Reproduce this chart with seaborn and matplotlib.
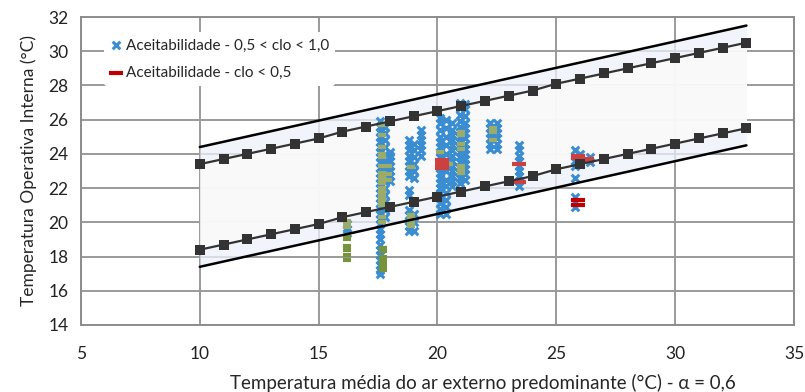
import pandas as pd
import seaborn as sns
import matplotlib.pyplot as plt

# --- data ---
band_x = [10, 11, 12, 13, 14, 15, 16, 17, 18, 19, 20, 21, 22, 23, 24, 25, 26, 27, 28, 29, 30, 31, 32, 33]
upper80 = [23.4, 23.7, 24.0, 24.3, 24.6, 24.9, 25.3, 25.6, 25.9, 26.2, 26.5, 26.8, 27.1, 27.4, 27.7, 28.1, 28.4, 28.7, 29.0, 29.3, 29.6, 29.9, 30.2, 30.5]
lower80 = [18.4, 18.7, 19.0, 19.3, 19.6, 19.9, 20.3, 20.6, 20.9, 21.2, 21.5, 21.8, 22.1, 22.4, 22.7, 23.1, 23.4, 23.7, 24.0, 24.3, 24.6, 24.9, 25.2, 25.5]
limit_x = [10, 33]
upper90 = [24.4, 31.5]
lower90 = [17.4, 24.5]

# Aceitabilidade - 0,5 < clo < 1,0 (blue crosses), one line per column
blue_x = [16.2] * 3 \
    + [17.6] * 31 \
    + [17.8] * 14 \
    + [18.0] * 7 \
    + [18.8] * 15 \
    + [19.0] * 9 \
    + [19.3] * 6 \
    + [20.1] * 19 \
    + [20.35] * 13 \
    + [20.6] * 13 \
    + [20.95] * 16 \
    + [21.15] * 15 \
    + [22.2] * 6 \
    + [22.5] * 6 \
    + [23.45] * 9 \
    + [25.8] * 8 \
    + [26.0] * 3 \
    + [26.4] * 2
blue_y = [19.4, 19.6, 19.9] \
    + [17.0, 17.2, 17.5, 17.8, 18.1, 18.4, 18.7, 19.0, 19.3, 19.6, 19.9, 20.2, 20.5, 20.8, 21.1, 21.4,
       21.7, 22.0, 22.3, 22.6, 22.9, 23.2, 23.5, 23.8, 24.1, 24.4, 24.7, 25.0, 25.3, 25.6, 25.9] \
    + [20.3, 20.7, 21.2, 21.6, 22.0, 22.4, 22.8, 23.2, 23.6, 24.0, 24.4, 24.8, 25.2, 25.6] \
    + [22.4, 22.7, 23.0, 23.3, 23.6, 23.9, 24.1] \
    + [19.5, 19.8, 20.1, 20.4, 20.7, 21.6, 21.9, 22.7, 23.0, 23.3, 23.6, 23.9, 24.2, 24.5, 24.8] \
    + [19.5, 20.0, 20.5, 22.6, 23.0, 23.4, 23.8, 24.2, 24.6] \
    + [23.9, 24.2, 24.5, 24.8, 25.1, 25.4] \
    + [20.5, 20.8, 21.1, 21.4, 21.7, 22.0, 22.3, 22.6, 22.9, 23.2, 23.5, 23.8, 24.1, 24.4, 24.7, 25.0,
       25.4, 25.8, 26.1] \
    + [20.5, 20.9, 21.3, 21.7, 22.1, 22.5, 23.0, 23.5, 24.0, 24.5, 25.0, 25.5, 26.0] \
    + [22.1, 22.4, 22.7, 23.0, 23.3, 23.6, 23.9, 24.2, 24.5, 24.8, 25.1, 25.4, 25.8] \
    + [22.3, 22.6, 22.9, 23.2, 23.5, 23.8, 24.1, 24.4, 24.7, 25.0, 25.3, 25.6, 25.9, 26.3, 26.7, 27.0] \
    + [22.5, 22.8, 23.1, 23.4, 23.7, 24.0, 24.3, 24.6, 24.9, 25.2, 25.5, 25.8, 26.2, 26.6, 26.9] \
    + [24.3, 24.6, 24.9, 25.2, 25.5, 25.8] \
    + [24.3, 24.6, 24.9, 25.2, 25.5, 25.8] \
    + [22.1, 22.4, 22.7, 23.0, 23.3, 23.6, 23.9, 24.2, 24.5] \
    + [23.3, 23.6, 23.9, 24.2, 22.6, 20.9, 21.2, 21.5] \
    + [23.4, 23.7, 24.0] \
    + [23.5, 23.8]

# olive dashes inside the band (no legend entry)
olive_x = [16.2] * 3 + [17.65] * 18 + [17.9] * 3 + [18.9] * 5 + [20.1] + [20.5] + [21.0] * 7 + [22.35] * 3
olive_y = [20.1, 19.9, 19.7] \
    + [25.7, 25.1, 24.4, 24.0, 23.8, 23.3, 22.9, 22.7, 22.5, 22.3, 22.0, 21.8, 21.6, 21.4, 21.2, 21.0, 20.3, 20.0] \
    + [22.8, 22.5, 23.3] \
    + [23.25, 20.4, 20.2, 20.0, 19.8] \
    + [24.1] + [23.4] \
    + [25.3, 25.1, 24.6, 24.3, 23.3, 23.1, 22.9] \
    + [25.5, 25.3, 24.8]

# darker green dashes below the band (no legend entry)
green_x = [16.2] * 6 + [17.7] * 7
green_y = [19.2, 19.0, 18.6, 18.4, 18.1, 17.8] + [18.5, 18.3, 18.0, 17.8, 17.6, 17.4, 17.2]

# Aceitabilidade - clo < 0,5 (red dashes)
red_x = [20.2] * 4 + [23.45] * 2 + [25.9] * 2 + [26.3] * 2
red_y = [23.2, 23.35, 23.5, 23.65, 23.4, 22.35, 23.85, 23.75, 23.6, 23.7]
dark_red_x = [25.9, 25.9]
dark_red_y = [21.3, 21.0]

# --- style ---
sns.set_style("white")
plt.rcParams["font.family"] = ["Lato", "DejaVu Sans"]
plt.rcParams["font.size"] = 11

fig = plt.figure(figsize=(8.05, 3.92), dpi=100)
ax = fig.add_axes([0.1006, 0.171, 0.8857, 0.7856])

ax.set_xlim(5, 35)
ax.set_ylim(14, 32)
ax.set_xticks(range(5, 36, 5))
ax.set_yticks(range(14, 33, 2))
ax.grid(True, color="#9a9a9a", linewidth=1.4, zorder=0)
ax.set_axisbelow(True)
for side in ["left", "bottom", "top", "right"]:
    ax.spines[side].set_color("#8c8c8c")
    ax.spines[side].set_linewidth(1.4)
ax.tick_params(axis="both", direction="out", length=5, width=1.2, color="#8c8c8c",
               labelsize=12.5, labelcolor="#222222", pad=4)
ax.tick_params(axis="x", pad=10)

# comfort band shading
ax.fill_between(limit_x, lower90, upper90, color="#edf2fa", alpha=0.75, zorder=1, linewidth=0)
ax.fill_between([band_x[0], band_x[-1]], [lower80[0], lower80[-1]], [upper80[0], upper80[-1]],
                color="#fafafa", alpha=0.9, zorder=1, linewidth=0)

# scatter series
sns.scatterplot(x=olive_x, y=olive_y, marker="_", s=30, linewidth=3, color="#9aab6a",
                ax=ax, zorder=3, label="_nolegend_")
sns.scatterplot(x=green_x, y=green_y, marker="_", s=30, linewidth=3, color="#77933c",
                ax=ax, zorder=3, label="_nolegend_")
sns.scatterplot(x=blue_x, y=blue_y, marker="x", s=30, linewidth=2.2, color="#3a8dd0",
                ax=ax, zorder=2.5, label="Aceitabilidade - 0,5 < clo < 1,0")
sns.scatterplot(x=red_x, y=red_y, marker="_", s=100, linewidth=3, color="#cc4040",
                ax=ax, zorder=4, label="_nolegend_")
sns.scatterplot(x=dark_red_x, y=dark_red_y, marker="_", s=100, linewidth=3, color="#c00000",
                ax=ax, zorder=4, label="Aceitabilidade - clo < 0,5")

# 80 % limits (squares) and 90 % limits
sns.lineplot(x=band_x, y=upper80, marker="s", markersize=7, color="#333333", linewidth=1.6,
             markeredgewidth=0, ax=ax, zorder=5, label="_nolegend_")
sns.lineplot(x=band_x, y=lower80, marker="s", markersize=7, color="#333333", linewidth=1.6,
             markeredgewidth=0, ax=ax, zorder=5, label="_nolegend_")
sns.lineplot(x=limit_x, y=upper90, color="black", linewidth=1.8, ax=ax, zorder=5, label="_nolegend_")
sns.lineplot(x=limit_x, y=lower90, color="black", linewidth=1.8, ax=ax, zorder=5, label="_nolegend_")

ax.set_xlabel("Temperatura média do ar externo predominante (°C) - α = 0,6", fontsize=13.5)
ax.xaxis.set_label_coords(0.564, -0.188, transform=ax.transAxes)
ax.xaxis.label.set_va("center")
ax.set_ylabel("Temperatura Operativa Interna (°C)", fontsize=12.5, labelpad=8)

leg = ax.legend(loc="upper left", bbox_to_anchor=(0.022, 0.975), frameon=True, facecolor="white",
                edgecolor="none", framealpha=1, fontsize=11, labelspacing=0.9,
                handlelength=0.7, handletextpad=0.3, borderpad=0.4)
leg.set_zorder(6)

plt.savefig("out.png", dpi=100)
